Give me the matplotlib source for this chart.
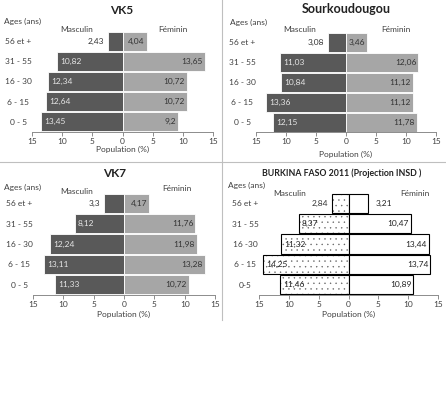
import numpy as np
import matplotlib
matplotlib.use('Agg')
import matplotlib.pyplot as plt
from matplotlib.lines import Line2D

# --- data
ages = ['56 et +', '31 - 55', '16 - 30', '6 - 15', '0 - 5']
ages_bf = ['56 et +', '31 - 55', '16 -30', '6 - 15', '0-5']

vk5_m = [2.43, 10.82, 12.34, 12.64, 13.45]
vk5_f = [4.04, 13.65, 10.72, 10.72, 9.2]
sk_m = [3.08, 11.03, 10.84, 13.36, 12.15]
sk_f = [3.46, 12.06, 11.12, 11.12, 11.78]
vk7_m = [3.3, 8.12, 12.24, 13.11, 11.33]
vk7_f = [4.17, 11.76, 11.98, 13.28, 10.72]
bf_m = [2.84, 8.37, 11.32, 14.25, 11.46]
bf_f = [3.21, 10.47, 13.44, 13.74, 10.89]

xticks = [-15, -10, -5, 0, 5, 10, 15]

W, H = 446, 394
plt.rcParams['font.family'] = ['Lato', 'DejaVu Sans']
plt.rcParams['hatch.linewidth'] = 0.25
TXT = '#404040'

fig = plt.figure(figsize=(W / 100, H / 100), dpi=100)


def fx(x):
    return x / W


def fy(y):
    return 1 - y / H


def add_ax(l, t, r, b):
    return fig.add_axes([l / W, 1 - b / H, (r - l) / W, (b - t) / H])


def lab(v):
    return str(v).replace('.', ',')


def pyramid(ax, cats, males, females, dotted=False, pop_off=14):
    y = np.arange(len(cats))[::-1]
    neg = [-v for v in males]
    if dotted:
        # dotted fill first, then the black outline on top
        ax.barh(y, neg, height=0.95, color='white', edgecolor='#606060',
                hatch='...', linewidth=0)
        ax.barh(y, neg, height=0.95, fill=False, edgecolor='black', linewidth=0.8)
        ax.barh(y, females, height=0.95, color='white', edgecolor='black',
                linewidth=0.8)
        mcol, fcol = '#222222', '#222222'
    else:
        ax.barh(y, neg, height=0.95, color='#595959', edgecolor='white',
                linewidth=0.6)
        ax.barh(y, females, height=0.95, color='#a6a6a6', edgecolor='white',
                linewidth=0.6)
        mcol, fcol = '#e6e6e6', '#333333'

    for yi, m, f in zip(y, males, females):
        if m < 4:
            ax.annotate(lab(m), (-m, yi), xytext=(-2.5, 0), textcoords='offset points',
                        ha='right', va='center', fontsize=6, color='#333333')
        else:
            ax.annotate(lab(m), (-m, yi), xytext=(2.2, 0), textcoords='offset points',
                        ha='left', va='center', fontsize=6, color=mcol)
        if dotted and f < 3.3:
            ax.annotate(lab(f), (f, yi), xytext=(6, 0), textcoords='offset points',
                        ha='left', va='center', fontsize=6, color=fcol)
        else:
            ax.annotate(lab(f), (f, yi), xytext=(-1.5, 0), textcoords='offset points',
                        ha='right', va='center', fontsize=6, color=fcol)

    ax.set_xlim(-15, 15)
    ax.set_ylim(-0.5, len(cats) - 0.5)
    ax.set_xticks(xticks)
    ax.set_xticklabels([str(abs(t)) for t in xticks], fontsize=6, color=TXT)
    ax.set_yticks(y)
    ax.set_yticklabels(cats, fontsize=6, color=TXT)
    for t in ax.get_yticklabels():
        t.set_ha('center')
    for s in ['top', 'right', 'left']:
        ax.spines[s].set_visible(False)
    ax.spines['bottom'].set_color('#8c8c8c')
    ax.spines['bottom'].set_linewidth(0.7)
    ax.tick_params(axis='y', length=0, pad=10)
    ax.tick_params(axis='x', length=3, width=0.7, color='#8c8c8c', pad=1.5)
    ax.annotate('Population (%)', (0.5, 0), xycoords='axes fraction',
                xytext=(0, -pop_off * 0.72), textcoords='offset points',
                ha='center', va='center', fontsize=6, color=TXT)


ax1 = add_ax(32, 31, 213, 132)
pyramid(ax1, ages, vk5_m, vk5_f, pop_off=17)
ax2 = add_ax(256, 32, 436, 132)
pyramid(ax2, ages, sk_m, sk_f, pop_off=22)
ax3 = add_ax(33, 193, 215, 295)
pyramid(ax3, ages, vk7_m, vk7_f, pop_off=19)
ax4 = add_ax(259, 193, 438, 295)
pyramid(ax4, ages_bf, bf_m, bf_f, dotted=True, pop_off=19)

# titles and side labels
fig.text(fx(122), fy(10), 'VK5', ha='center', va='center', fontsize=8.5,
         fontweight='bold', color='#222222')
fig.text(fx(346), fy(9), 'Sourkoudougou', ha='center', va='center', fontsize=9,
         fontweight='bold', color='#222222')
fig.text(fx(115), fy(173), 'VK7', ha='center', va='center', fontsize=8.5,
         fontweight='bold', color='#222222')
fig.text(fx(342), fy(173), 'BURKINA FASO 2011 (Projection INSD )', ha='center',
         va='center', fontsize=6.3, fontweight='bold', color='#222222')

for x, y in [(4, 21), (230, 22), (4, 187), (228, 185)]:
    fig.text(fx(x), fy(y), 'Ages (ans)', ha='left', va='center', fontsize=6, color=TXT)

for (mx, my), (fx_, fy_) in [((77, 29), (173, 29)), ((300, 29), (396, 29)),
                             ((77, 191), (177, 189)), ((290, 193), (415, 194))]:
    fig.text(fx(mx), fy(my), 'Masculin', ha='center', va='center', fontsize=6, color=TXT)
    fig.text(fx(fx_), fy(fy_), 'Féminin', ha='center', va='center', fontsize=6, color=TXT)

# panel separators
fig.add_artist(Line2D([fx(222), fx(222)], [fy(0), fy(320)], color='#bfbfbf', lw=0.8))
fig.add_artist(Line2D([0, 1], [fy(162), fy(162)], color='#bfbfbf', lw=0.8))

fig.savefig('out.png', dpi=100)
